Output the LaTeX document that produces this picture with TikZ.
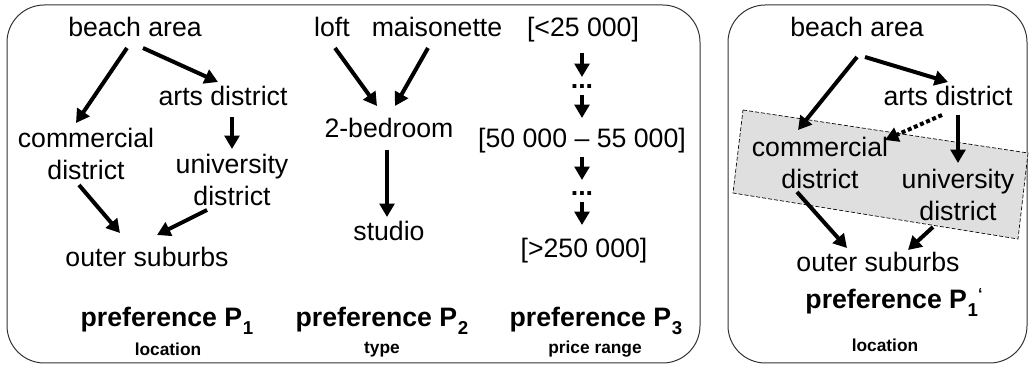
\documentclass[tikz,border=0pt]{standalone}
\usepackage{fontspec}
\setmainfont{Liberation Sans}
\usetikzlibrary{arrows.meta}
% lowered bold index after a preference name
\newcommand{\psub}[1]{\kern0.5pt\raisebox{-6pt}{\fontsize{14}{14}\selectfont\bfseries #1}}
\begin{document}
\begin{tikzpicture}[x=0.75pt,y=-0.75pt,
  lbl/.style={font=\fontsize{20}{24}\selectfont, inner sep=0pt, align=center, anchor=base},
  ptitle/.style={font=\fontsize{20}{24}\selectfont\bfseries, inner sep=0pt, anchor=base},
  pattr/.style={font=\fontsize{13}{15}\selectfont\bfseries, inner sep=0pt, anchor=base},
  ellip/.style={font=\fontsize{20}{24}\selectfont\bfseries, inner sep=0pt, anchor=base},
  panel/.style={draw=black!80, line width=0.75pt, rounded corners=28pt},
  arr/.style={line width=3pt, -{Triangle[length=10pt,width=11pt]}},
  weak/.style={arr, dash pattern=on 3pt off 2pt},
  grp/.style={fill=gray!25, draw=black, line width=0.5pt, dash pattern=on 3pt off 1.5pt},
]
\useasboundingbox (0,0) rectangle (1032,377);

% panels
\draw[panel] (7,5) rectangle (700,363);
\draw[panel] (728,5) rectangle (1027,363);

% ---------- preference P1: location ----------
% (two-line nodes are placed by the baseline of their last line)
\node[lbl] (bL) at (135,37) {beach area};
\node[lbl] (aL) at (223,106) {arts district};
\node[lbl] (cL) at (86,180) {commercial\\district};
\node[lbl] (uL) at (232,206) {university\\district};
\node[lbl] (oL) at (147,267) {outer suburbs};
\node[ptitle] (p1) at (167,327) {preference P\psub{1}};
\node[pattr] (l1) at (168,356) {location};

\draw[arr] ([shift={(-8,11)}]bL.base) -- ([shift={(-10,-57)}]cL.base);
\draw[arr] ([shift={(8,11)}]bL.base) -- ([shift={(-5,-24)}]aL.base);
\draw[arr] ([shift={(9,11)}]aL.base) -- ([shift={(0,-57)}]uL.base);
\draw[arr] ([shift={(-7,5)}]cL.base) -- ([shift={(-27,-34)}]oL.base);
\draw[arr] ([shift={(-25,4)}]uL.base) -- ([shift={(10,-32)}]oL.base);

% ---------- preference P2: type ----------
\node[lbl] (loft) at (332,37) {loft};
\node[lbl] (mais) at (437,37) {maisonette};
\node[lbl] (bed) at (389,138) {2-bedroom};
\node[lbl] (stu) at (389,241) {studio};
\node[ptitle] (p2) at (382,327) {preference P\psub{2}};
\node[pattr] (l2) at (382,354) {type};

\draw[arr] ([shift={(3,11)}]loft.base) -- ([shift={(-12,-32)}]bed.base);
\draw[arr] ([shift={(-9,11)}]mais.base) -- ([shift={(6,-32)}]bed.base);
\draw[arr] ([shift={(-2,12)}]bed.base) -- ([shift={(-2,-24)}]stu.base);

% ---------- preference P3: price range ----------
\node[lbl] (r1) at (583,37) {[<25 000]};
\node[ellip] (d1) at (582,89) {...};
\node[lbl] (r2) at (582,148) {[50 000 – 55 000]};
\node[ellip] (d2) at (582,196) {...};
\node[lbl] (r3) at (584,258) {[>250 000]};
\node[ptitle] (p3) at (596,327) {preference P\psub{3}};
\node[pattr] (l3) at (595,354) {price range};

\draw[arr] ([shift={(-1,16)}]r1.base) -- ([shift={(0,-12)}]d1.base);
\draw[arr] ([shift={(0,6)}]d1.base) -- ([shift={(0,-30)}]r2.base);
\draw[arr] ([shift={(0,9)}]r2.base) -- ([shift={(0,-16)}]d2.base);
\draw[arr] ([shift={(0,6)}]d2.base) -- ([shift={(-2,-33)}]r3.base);

% ---------- preference P1' : location, with merged group ----------
\path[grp] (743,110) -- (1028,153) -- (1018,239) -- (733,193) -- cycle;

\node[lbl] (bR) at (857,37) {beach area};
\node[lbl] (aR) at (948,106) {arts district};
\node[lbl] (cR) at (820,189) {commercial\\district};
\node[lbl] (uR) at (958,221) {university\\district};
\node[lbl] (oR) at (878,272) {outer suburbs};
\node[ptitle] (p1r) at (894,309) {preference P\psub{1}\raisebox{7pt}{\fontsize{12}{12}\selectfont ‘}};
\node[pattr] (l1r) at (885,352) {location};

\draw[arr] ([shift={(0,20)}]bR.base) -- ([shift={(-22,-59)}]cR.base);
\draw[arr] ([shift={(8,20)}]bR.base) -- ([shift={(0,-24)}]aR.base);
\draw[arr] ([shift={(10,9)}]aR.base) -- ([shift={(0,-58)}]uR.base);
\draw[weak] ([shift={(-6,9)}]aR.base) -- ([shift={(65,-49)}]cR.base);
\draw[arr] ([shift={(-23,3)}]cR.base) -- ([shift={(-31,-24)}]oR.base);
\draw[arr] ([shift={(-25,6)}]uR.base) -- ([shift={(30,-22)}]oR.base);
\end{tikzpicture}
\end{document}
